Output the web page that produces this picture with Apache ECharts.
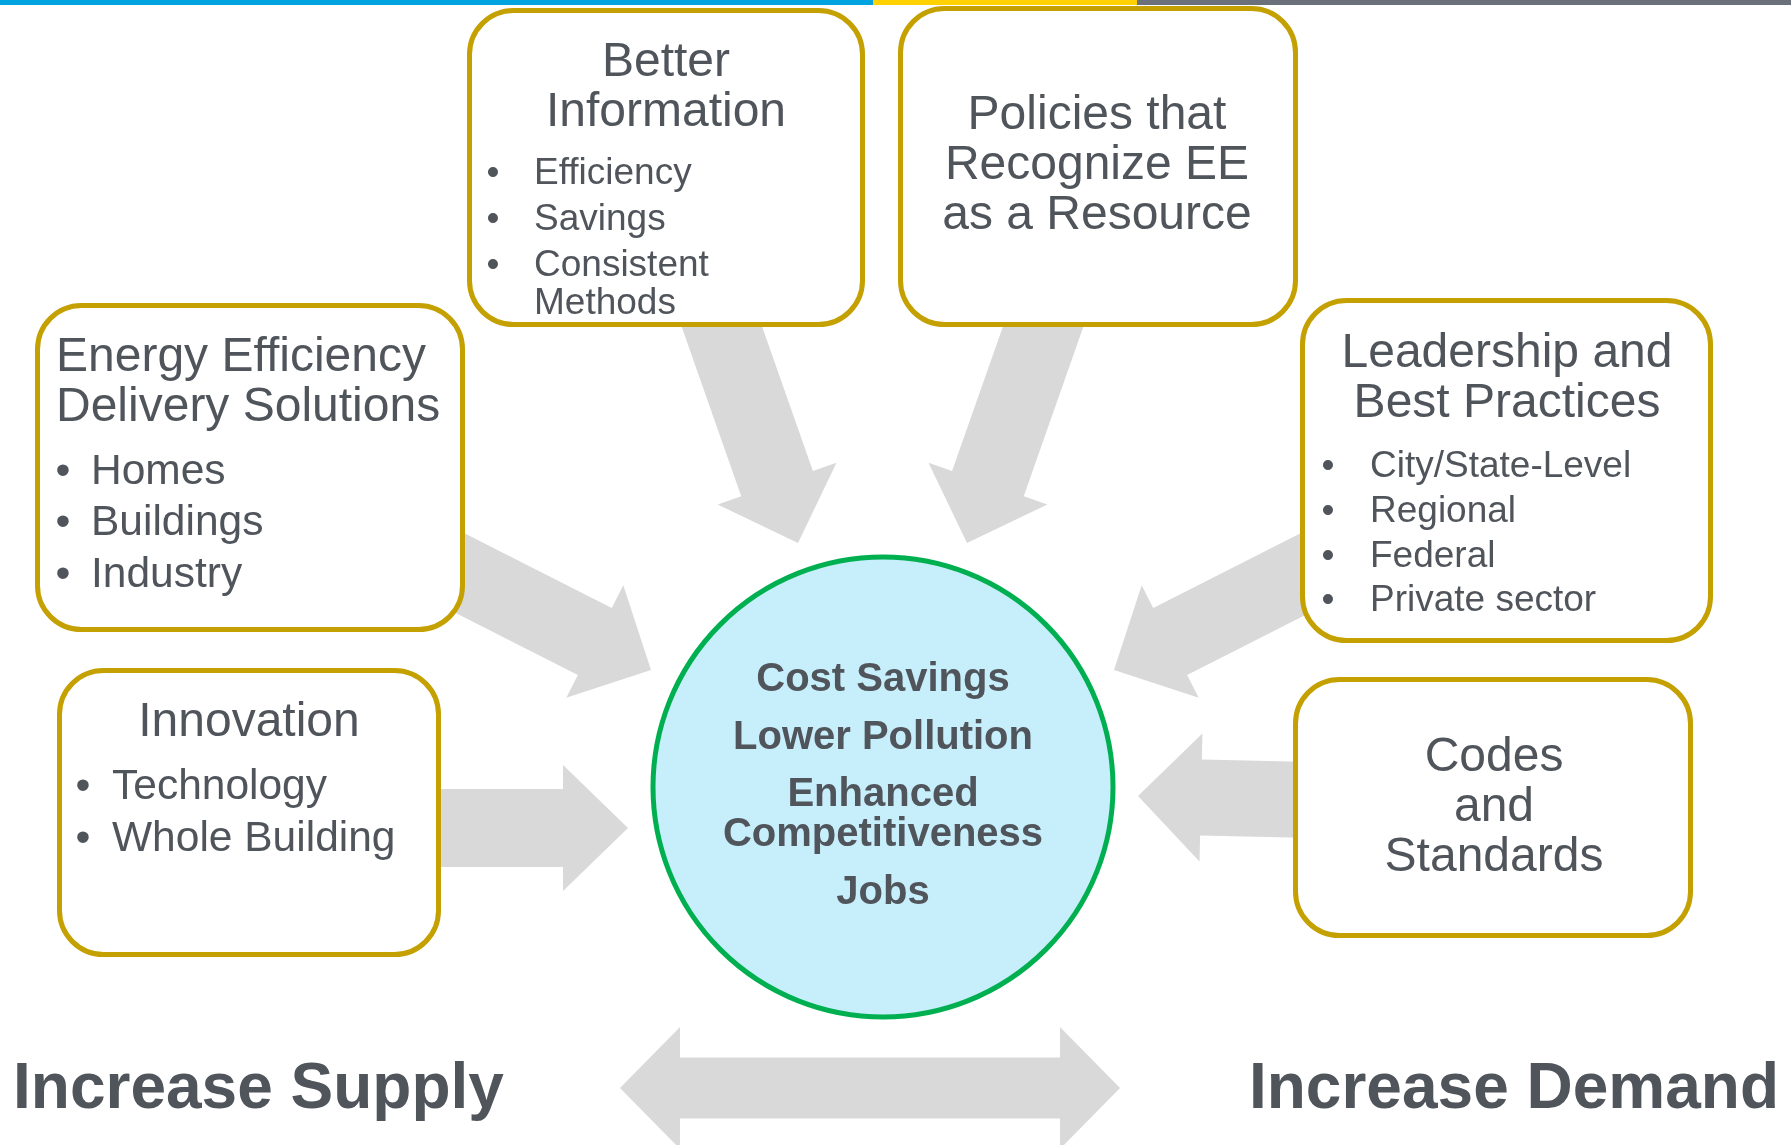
<!DOCTYPE html>
<html>
<head>
<meta charset="utf-8">
<title>Energy efficiency drivers</title>
<script src="https://cdn.jsdelivr.net/npm/echarts@6/dist/echarts.min.js"></script>
<style>
  html, body { margin: 0; padding: 0; background: #fff; }
  #chart { width: 1791px; height: 1145px; }
</style>
</head>
<body>
<div id="chart"></div>
<script>
// --- content -------------------------------------------------------------
const boxTitles = [
  ['Better', 'Information'],
  ['Policies that', 'Recognize EE', 'as a Resource'],
  ['Energy Efficiency', 'Delivery Solutions'],
  ['Leadership and', 'Best Practices'],
  ['Innovation'],
  ['Codes', 'and', 'Standards'],
];
const boxBullets = [
  ['Efficiency', 'Savings', 'Consistent\nMethods'],
  [],
  ['Homes', 'Buildings', 'Industry'],
  ['City/State-Level', 'Regional', 'Federal', 'Private sector'],
  ['Technology', 'Whole Building'],
  [],
];
const outcomes = ['Cost Savings', 'Lower Pollution', 'Enhanced\nCompetitiveness', 'Jobs'];
const sideLabels = ['Increase Supply', 'Increase Demand'];

// --- layout (diagram units = px of the 1791x1145 canvas) ------------------
const W = 1791;
const H = 1145;
const TEXT_COLOR = '#50555c';
const GOLD = '#c4a000';
const ARROW_GRAY = '#d9d9d9';
const FONT = '"Liberation Sans", Arial, sans-serif';
const MID_OFFSET = 0.3; // baseline -> vertical middle, in em

const topBand = [
  { x0: 0, x1: 873, color: '#00a3e0' },
  { x0: 873, x1: 1137, color: '#ffd100' },
  { x0: 1137, x1: W, color: '#6b717a' },
];

// outer edges of each box + where its text sits (baselines)
const boxLayout = [
  { x0: 467, y0: 8, x1: 865, y1: 327, align: 'center', titleX: 666, titleY: 77,
    titleSize: 48, dotX: 493, textX: 534, bulletY: 185, bulletSize: 37, bulletGap: 46, wrapGap: 38 },
  { x0: 898, y0: 6, x1: 1298, y1: 327, align: 'center', titleX: 1097, titleY: 130,
    titleSize: 48 },
  { x0: 35, y0: 303, x1: 465, y1: 632, align: 'left', titleX: 56, titleY: 372,
    titleSize: 48, dotX: 63, textX: 91, bulletY: 485, bulletSize: 42.5, bulletGap: 51.5, wrapGap: 40 },
  { x0: 1300, y0: 298, x1: 1713, y1: 643, align: 'center', titleX: 1507, titleY: 368,
    titleSize: 48, dotX: 1328, textX: 1370, bulletY: 478, bulletSize: 37, bulletGap: 44.7, wrapGap: 38 },
  { x0: 57, y0: 668, x1: 441, y1: 957, align: 'center', titleX: 249, titleY: 737,
    titleSize: 48, dotX: 83, textX: 112, bulletY: 800, bulletSize: 42.5, bulletGap: 52, wrapGap: 40 },
  { x0: 1293, y0: 677, x1: 1693, y1: 938, align: 'center', titleX: 1494, titleY: 772,
    titleSize: 48 },
];
const TITLE_GAP = 50;

// arrows: tail -> tip, shaft half width, wing half width, head length
const arrowLayout = [
  { tail: [716, 310], tip: [798, 543], shaft: 38, wing: 63, head: 63 },
  { tail: [1049, 310], tip: [967, 543], shaft: 38, wing: 63, head: 63 },
  { tail: [446, 566], tip: [651, 670], shaft: 37.5, wing: 63, head: 63 },
  { tail: [1319, 566], tip: [1114, 670], shaft: 37.5, wing: 63, head: 63 },
  { tail: [420, 828], tip: [628, 828], shaft: 39, wing: 63, head: 65 },
  { tail: [1313, 800], tip: [1138, 796], shaft: 38, wing: 64, head: 63 },
];
const doubleArrow = { left: [620, 1088], right: [1120, 1088], shaft: 30.5, wing: 61, head: 60 };

const hub = { cx: 883, cy: 787, r: 230, fill: '#c7eefb', stroke: '#00b050' };
const outcomeLayout = { x: 883, y: 692, size: 40, gap: 57.5, wrapGap: 40 };
const sideLayout = [
  { x: 13, y: 1110, align: 'left' },
  { x: 1779, y: 1110, align: 'right' },
];
const SIDE_SIZE = 64;

// --- build text list -------------------------------------------------------
const textItems = [];

function pushText(text, x, baseline, size, weight, align) {
  textItems.push({ text, x, baseline, size, weight, align });
}

boxTitles.forEach((lines, i) => {
  const L = boxLayout[i];
  lines.forEach((line, j) => {
    pushText(line, L.titleX, L.titleY + j * TITLE_GAP, L.titleSize, 'normal', L.align);
  });
  let y = L.bulletY;
  boxBullets[i].forEach((item) => {
    const parts = item.split('\n');
    pushText('\u2022', L.dotX, y, L.bulletSize, 'normal', 'center');
    parts.forEach((part, k) => {
      pushText(part, L.textX, y + k * L.wrapGap, L.bulletSize, 'normal', 'left');
    });
    y += L.bulletGap + (parts.length - 1) * L.wrapGap;
  });
});

let oy = outcomeLayout.y;
outcomes.forEach((item) => {
  const parts = item.split('\n');
  parts.forEach((part, k) => {
    pushText(part, outcomeLayout.x, oy + k * outcomeLayout.wrapGap, outcomeLayout.size, 'bold', 'center');
  });
  oy += outcomeLayout.gap + (parts.length - 1) * outcomeLayout.wrapGap;
});

sideLabels.forEach((label, i) => {
  pushText(label, sideLayout[i].x, sideLayout[i].y, SIDE_SIZE, 'bold', sideLayout[i].align);
});

// --- render helpers ----------------------------------------------------------
function unitPx(api) {
  return api.size([1, 1])[0];
}

function arrowPoints(api, a) {
  const t = api.coord(a.tail);
  const p = api.coord(a.tip);
  const k = unitPx(api);
  const dx = p[0] - t[0];
  const dy = p[1] - t[1];
  const len = Math.hypot(dx, dy);
  const ux = dx / len;
  const uy = dy / len;
  const nx = -uy;
  const ny = ux;
  const s = a.shaft * k;
  const w = a.wing * k;
  const bx = p[0] - ux * a.head * k;
  const by = p[1] - uy * a.head * k;
  return [
    [t[0] + nx * s, t[1] + ny * s],
    [bx + nx * s, by + ny * s],
    [bx + nx * w, by + ny * w],
    p,
    [bx - nx * w, by - ny * w],
    [bx - nx * s, by - ny * s],
    [t[0] - nx * s, t[1] - ny * s],
  ];
}

function doubleArrowPoints(api, a) {
  const l = api.coord(a.left);
  const r = api.coord(a.right);
  const k = unitPx(api);
  const s = a.shaft * k;
  const w = a.wing * k;
  const h = a.head * k;
  return [
    l,
    [l[0] + h, l[1] - w],
    [l[0] + h, l[1] - s],
    [r[0] - h, r[1] - s],
    [r[0] - h, r[1] - w],
    r,
    [r[0] - h, r[1] + w],
    [r[0] - h, r[1] + s],
    [l[0] + h, l[1] + s],
    [l[0] + h, l[1] + w],
  ];
}

const indexData = (arr) => arr.map((_, i) => [i, 0]);

const chart = echarts.init(document.getElementById('chart'), null, { renderer: 'canvas' });

chart.setOption({
  animation: false,
  backgroundColor: '#ffffff',
  grid: { left: 0, right: 0, top: 0, bottom: 0, containLabel: false },
  xAxis: { type: 'value', min: 0, max: W, show: false },
  yAxis: { type: 'value', min: 0, max: H, inverse: true, show: false },
  series: [
    {
      type: 'custom',
      name: 'band',
      silent: true,
      data: indexData(topBand),
      renderItem: (params, api) => {
        const b = topBand[params.dataIndex];
        const p0 = api.coord([b.x0, 0]);
        const p1 = api.coord([b.x1, 5]);
        return {
          type: 'rect',
          shape: { x: p0[0], y: p0[1], width: p1[0] - p0[0], height: p1[1] - p0[1] },
          style: { fill: b.color },
        };
      },
    },
    {
      type: 'custom',
      name: 'arrows',
      silent: true,
      data: indexData(arrowLayout.concat([doubleArrow])),
      renderItem: (params, api) => {
        const i = params.dataIndex;
        const pts = i < arrowLayout.length
          ? arrowPoints(api, arrowLayout[i])
          : doubleArrowPoints(api, doubleArrow);
        return { type: 'polygon', shape: { points: pts }, style: { fill: ARROW_GRAY } };
      },
    },
    {
      type: 'custom',
      name: 'boxes',
      silent: true,
      data: indexData(boxLayout),
      renderItem: (params, api) => {
        const L = boxLayout[params.dataIndex];
        const lw = 5;
        const p0 = api.coord([L.x0, L.y0]);
        const p1 = api.coord([L.x1, L.y1]);
        return {
          type: 'rect',
          shape: {
            x: p0[0] + lw / 2,
            y: p0[1] + lw / 2,
            width: p1[0] - p0[0] - lw,
            height: p1[1] - p0[1] - lw,
            r: 44,
          },
          style: { fill: '#ffffff', stroke: GOLD, lineWidth: lw },
        };
      },
    },
    {
      type: 'custom',
      name: 'hub',
      silent: true,
      data: [[hub.cx, hub.cy]],
      renderItem: (params, api) => {
        const c = api.coord([hub.cx, hub.cy]);
        return {
          type: 'circle',
          shape: { cx: c[0], cy: c[1], r: hub.r * unitPx(api) },
          style: { fill: hub.fill, stroke: hub.stroke, lineWidth: 5 },
        };
      },
    },
    {
      type: 'custom',
      name: 'labels',
      silent: true,
      data: indexData(textItems),
      renderItem: (params, api) => {
        const t = textItems[params.dataIndex];
        const p = api.coord([t.x, t.baseline - MID_OFFSET * t.size]);
        return {
          type: 'text',
          style: {
            text: t.text,
            x: p[0],
            y: p[1],
            fill: TEXT_COLOR,
            fontSize: t.size,
            fontWeight: t.weight,
            fontFamily: FONT,
            align: t.align,
            verticalAlign: 'middle',
          },
        };
      },
    },
  ],
});

window.addEventListener('resize', () => {
  chart.resize();
});
</script>
</body>
</html>
